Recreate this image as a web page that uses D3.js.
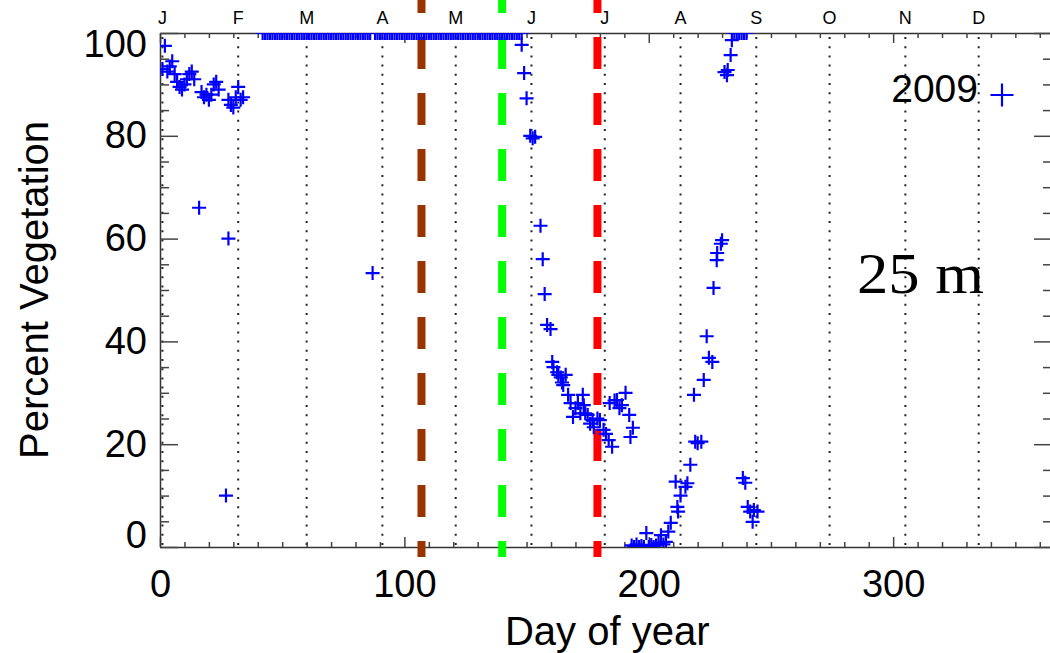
<!DOCTYPE html>
<html>
<head>
<meta charset="utf-8">
<script src="https://cdn.jsdelivr.net/npm/d3@7"></script>
<style>
  body { margin: 0; background: #fff; }
  svg { display: block; font-family: "Liberation Sans", Arial, sans-serif; }
</style>
</head>
<body>
<script>
// 2009 samples as [day of year, percent vegetation], split by season
var winter = [
  [1, 93], [2, 97.5], [3, 92.5], [4, 93.5], [5, 94.5], [6, 92], [7, 90.5], [8, 89.5], [9, 89], [10, 90],
  [11, 91], [12, 92], [13, 92.5], [14, 91], [16, 66], [17, 88.5], [18, 87.5], [19, 88], [20, 87], [21, 88],
  [22, 90], [23, 90.5], [24, 89], [27, 10], [28, 60], [28, 87], [29, 86], [30, 85.5], [31, 87.5], [32, 89.5],
  [33, 87], [34, 87.5]
];

var plateau = [
  [42, 100], [43, 100], [44, 100], [45, 100], [46, 100], [47, 100], [48, 100], [49, 100], [50, 100], [51, 100],
  [52, 100], [53, 100], [54, 100], [55, 100], [56, 100], [57, 100], [58, 100], [59, 100], [60, 100], [61, 100],
  [62, 100], [63, 100], [64, 100], [65, 100], [66, 100], [67, 100], [68, 100], [69, 100], [70, 100], [71, 100],
  [72, 100], [73, 100], [74, 100], [75, 100], [76, 100], [77, 100], [78, 100], [79, 100], [80, 100], [81, 100],
  [82, 100], [83, 100], [84, 100], [85, 100], [86, 100], [87, 53.3], [88, 100], [89, 100], [90, 100], [91, 100],
  [92, 100], [93, 100], [94, 100], [95, 100], [96, 100], [97, 100], [98, 100], [99, 100], [100, 100], [101, 100],
  [102, 100], [103, 100], [104, 100], [105, 100], [106, 100], [107, 100], [108, 100], [109, 100], [110, 100], [111, 100],
  [112, 100], [113, 100], [114, 100], [115, 100], [116, 100], [117, 100], [118, 100], [119, 100], [120, 100], [121, 100],
  [122, 100], [123, 100], [124, 100], [125, 100], [126, 100], [127, 100], [128, 100], [129, 100], [130, 100], [131, 100],
  [132, 100], [133, 100], [134, 100], [135, 100], [136, 100], [137, 100], [138, 100], [139, 100], [140, 100], [141, 100],
  [142, 100], [143, 100], [144, 100], [145, 100], [146, 100], [147, 100], [148, 100]
];

var decline = [
  [148, 97.7], [149, 92.2], [150, 87.3], [151.5, 80], [152.5, 79.5], [153.5, 79.8], [155.7, 62.5], [156.6, 56],
  [157.4, 49.2], [158.4, 43.2], [159.8, 42.4], [160.5, 36], [161, 35], [162.5, 34], [163, 33.5], [164, 33],
  [164.5, 32], [165, 31.5], [166, 33.5], [167, 29.6], [168, 28], [169, 25.3], [170, 27], [171, 28], [172, 26],
  [173, 29.6], [173.4, 27.6], [174, 26], [175, 25.7], [176, 24], [177, 24.7], [177.5, 23.3], [179, 25], [180, 24.7],
  [181.5, 22.8], [182.5, 22], [183.6, 20.8], [184, 28], [185, 19.5], [186, 28.5], [187, 28.6], [188, 27],
  [189, 27.6], [190.5, 30], [192, 25.7], [192.5, 21.4], [193.5, 23.2]
];

var summerLow = [
  [193, 0.3], [194, 0], [195, 0.5], [196, 0], [197, 0.2], [198, 0], [199, 2.7], [200, 0], [201, 0.4],
  [202, 0], [203, 0.3], [204, 0.8], [205, 2.3], [206, 0.5], [207, 1], [208, 3], [209, 4.7]
];

var regrowth = [
  [211, 12.7], [211.7, 7.8], [212, 6.9], [213, 10], [215, 11.7], [215.8, 12.4], [217, 16], [219, 20.5],
  [220, 20.2], [221.5, 20.5], [218.5, 29.6], [222.5, 32.5], [223.7, 41], [224.6, 36.8], [226, 36], [226.5, 50.4],
  [227.8, 55.8], [228, 57.2], [229.5, 59], [230, 59.7], [231, 92.4], [232, 91.8], [232.3, 92.8], [233.5, 95.7],
  [234, 98.6], [235, 100], [236, 100], [237, 100], [238, 100], [239, 100], [240, 100]
];

var lateDrop = [
  [238.5, 13.4], [239.5, 12.5], [240.5, 7.8], [241.5, 6.9], [242.5, 4.9], [243, 7.2], [244.5, 6.9]
];

var monthLabels = ['J', 'F', 'M', 'A', 'M', 'J', 'J', 'A', 'S', 'O', 'N', 'D'];
var monthStarts = [1, 32, 60, 91, 121, 152, 182, 213, 244, 274, 305, 335];

// the three dashed marker days and their colours
var markerDays = [107, 140, 179];
var markerColors = ['#993300', '#00ff00', '#ff0000'];

var xTicks = [0, 100, 200, 300];
var yTicks = [0, 20, 40, 60, 80, 100];

var samples = winter.concat(plateau, decline, summerLow, regrowth, lateDrop);

var width = 1050, height = 653;
// (not "top": that name is taken by window.top)
var pLeft = 160, pRight = 1052, pTop = 33, pBottom = 547;

var x = d3.scaleLinear().domain([0, 365]).range([pLeft, pRight]);
var y = d3.scaleLinear().domain([0, 100]).range([pBottom, pTop]);

var svg = d3.select('body').append('svg')
  .attr('width', width)
  .attr('height', height);

svg.append('clipPath').attr('id', 'plotclip')
  .append('rect')
  .attr('x', pLeft).attr('y', pTop)
  .attr('width', pRight - pLeft).attr('height', pBottom - pTop);

// dotted month lines
svg.append('g').selectAll('line')
  .data(monthStarts)
  .enter().append('line')
  .attr('x1', function(d) { return x(d); })
  .attr('x2', function(d) { return x(d); })
  .attr('y1', pTop + 4).attr('y2', pBottom)
  .attr('stroke', '#222')
  .attr('stroke-width', 2)
  .attr('stroke-dasharray', '2,7.2');

// month letters above the plot
svg.append('g').selectAll('text')
  .data(monthLabels)
  .enter().append('text')
  .attr('x', function(d, i) { return x(monthStarts[i]); })
  .attr('y', 24)
  .attr('text-anchor', 'middle')
  .attr('font-size', 18)
  .text(function(d) { return d; });

// axes, ticks pointing inward like the original
function styleAxis(g) {
  g.selectAll('.domain').attr('stroke', '#333').attr('stroke-width', 1.5);
  g.selectAll('.tick line').attr('stroke', '#444').attr('stroke-width', 1.5);
}

var minorX = d3.range(0, 366, 10).filter(function(d) { return d % 100 !== 0; });
var minorY = d3.range(0, 101, 5).filter(function(d) { return d % 20 !== 0; });

var gxb = svg.append('g').attr('transform', 'translate(0,' + pBottom + ')')
  .call(d3.axisBottom(x).tickValues(xTicks).tickSize(-10).tickSizeOuter(0).tickPadding(23));
gxb.selectAll('text').attr('font-size', 38).attr('fill', '#000')
  .attr('font-family', '"Liberation Sans", Arial, sans-serif');
styleAxis(gxb);
svg.append('g').attr('transform', 'translate(0,' + pBottom + ')')
  .call(d3.axisBottom(x).tickValues(minorX).tickSize(-5).tickFormat(''))
  .call(function(g) { g.select('.domain').remove(); styleAxis(g); });

var gxt = svg.append('g').attr('transform', 'translate(0,' + pTop + ')')
  .call(d3.axisTop(x).tickValues(xTicks).tickSize(-10).tickSizeOuter(0).tickFormat(''));
styleAxis(gxt);
svg.append('g').attr('transform', 'translate(0,' + pTop + ')')
  .call(d3.axisTop(x).tickValues(minorX).tickSize(-5).tickFormat(''))
  .call(function(g) { g.select('.domain').remove(); styleAxis(g); });

var gyl = svg.append('g').attr('transform', 'translate(' + pLeft + ',0)')
  .call(d3.axisLeft(y).tickValues(yTicks).tickSize(-18).tickSizeOuter(0).tickPadding(13));
gyl.selectAll('text').attr('font-size', 38).attr('fill', '#000')
  .attr('font-family', '"Liberation Sans", Arial, sans-serif')
  .attr('dy', function(d) { return d === 100 ? '0.62em' : d === 0 ? '0.02em' : '0.32em'; });
styleAxis(gyl);
svg.append('g').attr('transform', 'translate(' + pLeft + ',0)')
  .call(d3.axisLeft(y).tickValues(minorY).tickSize(-9).tickFormat(''))
  .call(function(g) { g.select('.domain').remove(); styleAxis(g); });

var gyr = svg.append('g').attr('transform', 'translate(' + pRight + ',0)')
  .call(d3.axisRight(y).tickValues(yTicks).tickSize(-18).tickSizeOuter(0).tickFormat(''));
styleAxis(gyr);
svg.append('g').attr('transform', 'translate(' + pRight + ',0)')
  .call(d3.axisRight(y).tickValues(minorY).tickSize(-9).tickFormat(''))
  .call(function(g) { g.select('.domain').remove(); styleAxis(g); });

// dashed vertical marker lines
svg.append('g').selectAll('line')
  .data(markerDays)
  .enter().append('line')
  .attr('x1', function(d) { return x(d); })
  .attr('x2', function(d) { return x(d); })
  .attr('y1', -19).attr('y2', 557)
  .attr('stroke', function(d, i) { return markerColors[i]; })
  .attr('stroke-width', 8)
  .attr('stroke-dasharray', '32,24');

// plus markers, clipped to the plot box
var plus = function(cx, cy, r) {
  return 'M' + (cx - r) + ',' + cy + 'H' + (cx + r) + 'M' + cx + ',' + (cy - r) + 'V' + (cy + r);
};

svg.append('g').attr('clip-path', 'url(#plotclip)')
  .selectAll('path')
  .data(samples)
  .enter().append('path')
  .attr('d', function(d) { return plus(x(d[0]), y(d[1]), 7); })
  .attr('stroke', '#0000ff')
  .attr('stroke-width', 2.2)
  .attr('fill', 'none');

// legend
svg.append('text')
  .attr('x', 978).attr('y', 102)
  .attr('text-anchor', 'end')
  .attr('font-size', 39)
  .text('2009');
svg.append('path')
  .attr('d', plus(1002, 95, 11.5))
  .attr('stroke', '#0000ff')
  .attr('stroke-width', 2.2);

svg.append('text')
  .attr('x', 857).attr('y', 293)
  .attr('font-family', '"Liberation Serif", "Times New Roman", serif')
  .attr('font-size', 58)
  .attr('textLength', 127)
  .attr('lengthAdjust', 'spacingAndGlyphs')
  .text('25 m');

// axis titles
svg.append('text')
  .attr('x', x(183)).attr('y', 645)
  .attr('text-anchor', 'middle')
  .attr('font-size', 40)
  .text('Day of year');

svg.append('text')
  .attr('transform', 'translate(48,290) rotate(-90)')
  .attr('text-anchor', 'middle')
  .attr('font-size', 40)
  .text('Percent Vegetation');
</script>
</body>
</html>
